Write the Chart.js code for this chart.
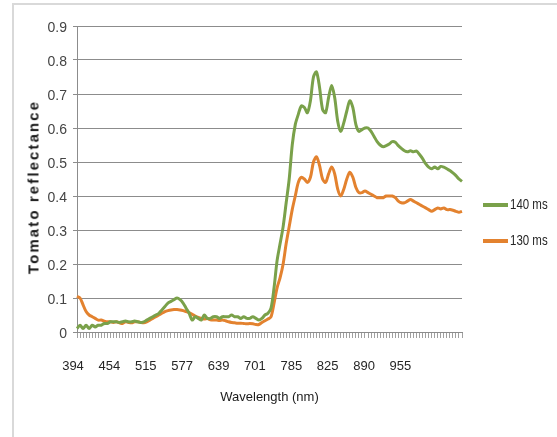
<!DOCTYPE html>
<html>
<head>
<meta charset="utf-8">
<script src="https://cdn.jsdelivr.net/npm/chart.js@4/dist/chart.umd.min.js"></script>
<style>
    html, body { margin: 0; padding: 0; background: #fff; }
    body { width: 557px; height: 437px; position: relative; overflow: hidden; }
    #frame { position: absolute; left: 12px; top: 3px; width: 600px; height: 500px; border: 2px solid #d9d9d9; }
    #chart { position: absolute; left: 0; top: 0; }
    #ytitle {
        position: absolute; left: 33px; top: 187px; transform: translate(-50%, -50%) rotate(-90deg);
        font: bold 15px "Liberation Sans", Arial, sans-serif; letter-spacing: 2.1px; color: #1a1a1a; white-space: nowrap;
    }
    .leg { position: absolute; left: 483px; height: 16px; white-space: nowrap; }
    .leg span.ln { position: absolute; left: 0; top: 7px; width: 25px; height: 4px; }
    .leg span.tx {
        position: absolute; left: 27px; top: 0; font: 14px "Liberation Sans", Arial, sans-serif; color: #262626;
        transform: scaleX(0.82); transform-origin: left center;
    }
</style>
</head>
<body>
<div id="frame"></div>
<canvas id="chart" width="557" height="437"></canvas>
<div id="ytitle">Tomato reflectance</div>
<div class="leg" style="top:196px"><span class="ln" style="background:#7aa14a"></span><span class="tx">140 ms</span></div>
<div class="leg" style="top:232px"><span class="ln" style="background:#e3822f"></span><span class="tx">130 ms</span></div>
<script>
document.addEventListener('DOMContentLoaded', () => {
    // Tick labels shown every 12th sample
    const tickLabels = ['394', '454', '515', '577', '639', '701', '785', '825', '890', '955'];
    const yTicks = [0, 0.1, 0.2, 0.3, 0.4, 0.5, 0.6, 0.7, 0.8, 0.9];

    // 140 ms exposure
    const series140 = [
        0.01, 0.02, 0.01, 0.02, 0.01, 0.02, 0.015, 0.02, 0.02, 0.025,
        0.025, 0.03, 0.03, 0.03, 0.028, 0.03, 0.032, 0.03, 0.03, 0.032,
        0.03, 0.028, 0.03, 0.035, 0.04, 0.045, 0.05, 0.055, 0.065, 0.075,
        0.085, 0.09, 0.095, 0.10, 0.095, 0.085, 0.07, 0.055, 0.035, 0.045,
        0.04, 0.035, 0.05, 0.04, 0.04, 0.045, 0.045, 0.04, 0.045, 0.045,
        0.045, 0.05, 0.045, 0.045, 0.04, 0.045, 0.04, 0.04, 0.045, 0.04,
        0.035, 0.04, 0.05, 0.055, 0.07, 0.13, 0.21, 0.26, 0.31, 0.38,
        0.45, 0.55, 0.61, 0.64, 0.665, 0.66, 0.645, 0.68, 0.75, 0.765,
        0.72, 0.655, 0.645, 0.69, 0.725, 0.69, 0.62, 0.59, 0.615, 0.65,
        0.68, 0.66, 0.61, 0.59, 0.595, 0.60, 0.60, 0.59, 0.575, 0.56,
        0.55, 0.545, 0.548, 0.553, 0.56, 0.558, 0.548, 0.54, 0.533, 0.53,
        0.533, 0.53, 0.532, 0.522, 0.51, 0.495, 0.485, 0.48, 0.485, 0.48,
        0.487, 0.485, 0.48, 0.475, 0.468, 0.46, 0.45, 0.443
    ];

    // 130 ms exposure
    const series130 = [
        0.105, 0.10, 0.08, 0.06, 0.05, 0.045, 0.04, 0.035, 0.035, 0.032,
        0.03, 0.03, 0.028, 0.03, 0.027, 0.025, 0.03, 0.028, 0.027, 0.03,
        0.03, 0.028, 0.027, 0.03, 0.035, 0.04, 0.045, 0.05, 0.055, 0.06,
        0.063, 0.065, 0.066, 0.066, 0.065, 0.063, 0.06, 0.057, 0.052, 0.047,
        0.043, 0.04, 0.038, 0.04, 0.036, 0.035, 0.035, 0.034, 0.035, 0.033,
        0.03, 0.028, 0.027, 0.026, 0.026, 0.025, 0.024, 0.025, 0.024, 0.022,
        0.022, 0.028, 0.033, 0.038, 0.045, 0.085, 0.13, 0.16, 0.20, 0.26,
        0.31, 0.36, 0.40, 0.44, 0.455, 0.45, 0.44, 0.455, 0.50, 0.515,
        0.49, 0.45, 0.44, 0.465, 0.485, 0.465, 0.42, 0.40, 0.42, 0.45,
        0.47, 0.455, 0.425, 0.41, 0.41, 0.415, 0.41, 0.405, 0.40, 0.395,
        0.395, 0.395, 0.40, 0.40, 0.40, 0.395, 0.385, 0.38, 0.38, 0.385,
        0.39, 0.385, 0.38, 0.375, 0.37, 0.365, 0.36, 0.355, 0.36, 0.365,
        0.362, 0.365, 0.36, 0.36, 0.358, 0.355, 0.352, 0.355
    ];

    const categories = series140.map((_, i) => i);
    const sans = '"Liberation Sans", Arial, sans-serif';

    new Chart(document.getElementById('chart').getContext('2d'), {
        type: 'line',
        data: {
            labels: categories,
            datasets: [
                { label: '140 ms', data: series140, borderColor: '#7aa14a', borderWidth: 3, pointRadius: 0, tension: 0.3 },
                { label: '130 ms', data: series130, borderColor: '#e3822f', borderWidth: 3, pointRadius: 0, tension: 0.3 }
            ]
        },
        options: {
            responsive: false,
            animation: false,
            layout: { padding: { left: 17, right: 95, top: 26, bottom: 0 } },
            plugins: { legend: { display: false }, tooltip: { enabled: false } },
            scales: {
                x: {
                    type: 'category',
                    offset: false,
                    afterFit: scale => { scale.height = 105; },
                    grid: { drawOnChartArea: false, tickLength: 6, color: '#a0a0a0' },
                    border: { color: '#8c8c8c' },
                    ticks: {
                        autoSkip: false, maxRotation: 0, minRotation: 0, padding: 21, labelOffset: -4,
                        color: '#262626', font: { family: sans, size: 13 },
                        callback: (v, i) => (i % 12 === 0 && tickLabels[i / 12]) ? tickLabels[i / 12] : ''
                    },
                    title: {
                        display: true, text: 'Wavelength (nm)', color: '#1a1a1a',
                        font: { family: sans, size: 13 }, padding: { top: 0, bottom: 32 }
                    }
                },
                y: {
                    min: 0, max: 0.9,
                    afterFit: scale => { scale.width = 60; },
                    afterBuildTicks: scale => { scale.ticks = yTicks.map(v => ({ value: v })); },
                    grid: { color: '#8c8c8c', tickLength: 4 },
                    border: { color: '#8c8c8c' },
                    ticks: {
                        padding: 6, color: '#444', labelOffset: 2,
                        font: { family: sans, size: 14 },
                        callback: v => String(Math.round(v * 10) / 10)
                    }
                }
            }
        }
    });
});
</script>
</body>
</html>
